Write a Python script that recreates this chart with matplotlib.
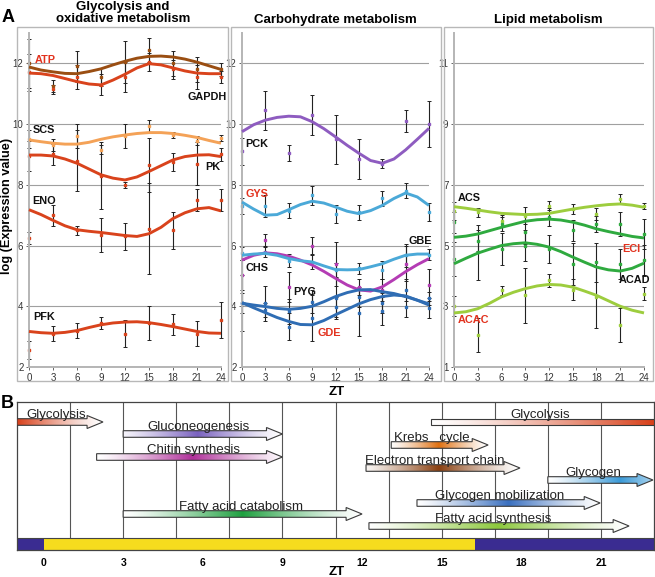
import numpy as np
import matplotlib
matplotlib.use("Agg")
import matplotlib.pyplot as plt
from matplotlib.colors import to_rgb
from matplotlib.patches import Polygon, Rectangle

plt.rcParams["font.family"] = ["Liberation Sans", "DejaVu Sans"]

W, H = 655, 577

# ---- panel A data -------------------------------------------------------
ZT = [0, 3, 6, 9, 12, 15, 18, 21, 24]
ZT_FIT = [0, 1.5, 3, 4.5, 6, 7.5, 9, 10.5, 12, 13.5, 15, 16.5, 18, 19.5, 21, 22.5, 24]

# glycolysis and oxidative metabolism
GAPDH_MEAN = [12.0, 11.25, 11.9, 11.55, 12.05, 12.45, 12.0, 11.8, 11.8]
GAPDH_ERR = [0.8, 0.2, 0.5, 0.3, 0.7, 0.4, 0.4, 0.4, 0.2]
GAPDH_FIT = [11.88, 11.78, 11.72, 11.67, 11.66, 11.73, 11.82, 11.95, 12.07,
             12.17, 12.23, 12.24, 12.21, 12.14, 12.04, 11.92, 11.8]
ATP_MEAN = [11.7, 11.15, 11.55, 11.3, 11.55, 12.05, 11.8, 11.55, 11.55]
ATP_ERR = [0.6, 0.15, 0.4, 0.35, 0.5, 0.3, 0.3, 0.4, 0.2]
ATP_FIT = [11.68, 11.66, 11.6, 11.5, 11.4, 11.32, 11.29, 11.45, 11.64,
           11.85, 11.99, 11.95, 11.85, 11.75, 11.68, 11.66, 11.66]
SCS_MEAN = [9.5, 9.3, 9.6, 9.15, 9.6, 9.95, 9.65, 9.45, 9.55]
SCS_ERR = [0.3, 0.2, 0.4, 0.15, 0.4, 0.2, 0.1, 0.15, 0.1]
SCS_FIT = [9.48, 9.42, 9.37, 9.34, 9.34, 9.4, 9.5, 9.58, 9.64,
           9.69, 9.72, 9.72, 9.69, 9.63, 9.56, 9.46, 9.37]
PK_MEAN = [8.95, 9.0, 8.8, 8.3, 8.0, 8.65, 8.75, 8.7, 9.0]
PK_ERR = [0.5, 0.35, 1.0, 1.1, 0.1, 0.9, 0.3, 0.7, 0.2]
PK_FIT = [8.98, 8.98, 8.95, 8.85, 8.71, 8.52, 8.33, 8.22, 8.16,
          8.26, 8.44, 8.63, 8.82, 8.93, 8.98, 8.99, 8.93]
ENO_MEAN = [6.25, 7.0, 6.5, 6.35, 6.3, 6.55, 6.5, 7.5, 7.5]
ENO_ERR = [0.2, 0.35, 0.15, 0.55, 0.45, 1.5, 0.6, 0.35, 0.35]
ENO_FIT = [7.18, 7.02, 6.83, 6.65, 6.52, 6.47, 6.43, 6.38, 6.33,
           6.3, 6.39, 6.6, 6.89, 7.08, 7.21, 7.25, 7.14]
PFK_MEAN = [2.55, 3.1, 3.2, 3.45, 3.1, 3.45, 3.4, 3.1, 3.55]
PFK_ERR = [0.3, 0.25, 0.25, 0.2, 0.45, 0.55, 0.35, 0.4, 0.6]
PFK_FIT = [3.17, 3.13, 3.11, 3.14, 3.2, 3.3, 3.39, 3.45, 3.48,
           3.49, 3.46, 3.4, 3.33, 3.25, 3.17, 3.12, 3.11]

# carbohydrate metabolism
PCK_MEAN = [9.1, 10.45, 9.05, 10.3, 9.5, 8.85, 8.7, 10.1, 10.0]
PCK_ERR = [0.45, 0.65, 0.25, 0.65, 0.8, 0.65, 0.15, 0.35, 0.75]
PCK_FIT = [9.75, 9.98, 10.13, 10.22, 10.26, 10.24, 10.08, 9.85, 9.58,
           9.3, 9.04, 8.8, 8.71, 8.85, 9.15, 9.5, 9.86]
GYS_MEAN = [7.3, 7.3, 7.15, 7.65, 7.05, 7.1, 7.55, 7.8, 7.1]
GYS_ERR = [0.25, 0.35, 0.25, 0.3, 0.3, 0.25, 0.25, 0.25, 0.3]
GYS_FIT = [7.43, 7.2, 7.0, 7.02, 7.18, 7.35, 7.46, 7.4, 7.27,
           7.13, 7.05, 7.15, 7.32, 7.55, 7.73, 7.6, 7.32]
GBE_MEAN = [5.74, 5.8, 5.5, 5.46, 5.2, 5.25, 5.2, 5.68, 5.7]
GBE_ERR = [0.22, 0.19, 0.22, 0.22, 0.22, 0.19, 0.3, 0.38, 0.19]
GBE_FIT = [5.68, 5.72, 5.74, 5.68, 5.57, 5.5, 5.46, 5.33, 5.21,
           5.2, 5.21, 5.3, 5.4, 5.55, 5.68, 5.72, 5.72]
CHS_MEAN = [5.03, 6.17, 4.64, 6.0, 5.4, 4.64, 4.54, 5.4, 4.7]
CHS_ERR = [0.5, 0.22, 0.5, 0.27, 0.73, 0.27, 0.35, 0.57, 0.52]
CHS_FIT = [5.52, 5.68, 5.76, 5.73, 5.65, 5.52, 5.36, 5.15, 4.92,
           4.7, 4.54, 4.5, 4.64, 4.88, 5.14, 5.37, 5.57]
PYG_MEAN = [4.1, 4.1, 3.83, 4.15, 4.26, 4.32, 4.1, 4.54, 4.26]
PYG_ERR = [0.33, 0.57, 0.41, 0.38, 0.68, 0.33, 0.33, 0.36, 0.22]
PYG_FIT = [4.1, 4.04, 3.99, 3.93, 3.9, 3.93, 4.0, 4.15, 4.32,
           4.45, 4.54, 4.55, 4.48, 4.42, 4.32, 4.2, 4.08]
GDE_MEAN = [4.1, 3.88, 3.33, 3.6, 3.99, 3.77, 3.83, 3.99, 3.93]
GDE_ERR = [0.93, 0.22, 0.44, 0.76, 0.33, 0.76, 0.46, 0.33, 0.33]
GDE_FIT = [4.12, 3.95, 3.79, 3.63, 3.5, 3.4, 3.39, 3.53, 3.72,
           3.9, 4.08, 4.22, 4.32, 4.37, 4.34, 4.2, 4.04]

# lipid metabolism
ACS_MEAN = [6.15, 6.09, 5.82, 5.98, 6.31, 6.2, 6.04, 6.53, 6.31]
ACS_ERR = [0.3, 0.14, 0.2, 0.28, 0.15, 0.17, 0.2, 0.16, 0.1]
ACS_FIT = [6.28, 6.23, 6.17, 6.11, 6.06, 6.04, 6.02, 6.03, 6.06,
           6.13, 6.2, 6.26, 6.31, 6.35, 6.37, 6.33, 6.26]
ECI_MEAN = [5.77, 5.16, 5.71, 5.44, 5.93, 5.5, 5.71, 5.71, 5.38]
ECI_ERR = [0.35, 0.35, 0.22, 0.38, 0.3, 0.35, 0.27, 0.4, 0.5]
ECI_FIT = [5.27, 5.31, 5.38, 5.49, 5.6, 5.7, 5.8, 5.85, 5.87,
           5.84, 5.77, 5.67, 5.55, 5.46, 5.38, 5.3, 5.25]
ACAD_MEAN = [4.56, 4.78, 4.89, 5.0, 4.89, 4.4, 4.45, 4.4, 4.51]
ACAD_ERR = [0.55, 0.9, 0.52, 0.52, 0.46, 0.7, 0.65, 0.5, 0.52]
ACAD_FIT = [4.4, 4.58, 4.75, 4.88, 5.0, 5.06, 5.09, 5.04, 4.95,
            4.8, 4.62, 4.45, 4.29, 4.2, 4.16, 4.25, 4.42]
ACAC_MEAN = [3.0, 2.05, 3.52, 3.36, 3.85, 3.55, 3.3, 2.38, 3.42]
ACAC_ERR = [0.33, 0.55, 0.15, 0.9, 0.2, 0.35, 1.0, 0.55, 0.2]
ACAC_FIT = [2.78, 2.82, 2.92, 3.1, 3.31, 3.46, 3.58, 3.67, 3.72,
            3.7, 3.63, 3.5, 3.36, 3.18, 3.0, 2.87, 2.78]

# ---- panel B data -------------------------------------------------------
PATHWAYS = ["Glycolysis", "Gluconeogenesis", "Chitin synthesis",
            "Fatty acid catabolism", "Glycolysis", "Krebs   cycle",
            "Electron transport chain", "Glycogen", "Glycogen mobilization",
            "Fatty acid synthesis"]
PATH_START = [-1, 3, 2, 3, 14.6, 13.1, 12.15, 19, 14.07, 12.26]
PATH_END = [2.24, 9, 9, 12, 23, 16.75, 17.95, 22.96, 20.97, 22.06]
PATH_PEAK = [-1, 5.8, 5.6, 7.5, 23, 14.9, 14.9, 21.7, 17.5, 17.1]
PATH_COLOR = ["#d8401a", "#7a62c0", "#b0309a", "#1fa040", "#d8401a",
              "#e07010", "#8a4010", "#3a9ad8", "#3a70c0", "#8cc83c"]
LIGHTS_ON, LIGHTS_OFF = 0, 16.25
ZT_B_TICKS = [0, 3, 6, 9, 12, 15, 18, 21]

# colours
RED = "#d9431c"
BROWN = "#9a4e12"
ORANGE = "#f4a257"
PURPLE = "#8e5cc0"
SKY = "#4ba9d8"
MAGENTA = "#b43cb4"
BLUE = "#2f6db4"
LIME = "#9dcd3e"
GREEN = "#2faa3f"
LRED = "#e2321e"
NAVY = "#3a2c91"
YELLOW = "#f6dc1e"


def fx(px):
    return px / W


def fy(py):
    return 1 - py / H


def style_axis(ax, ylim, yticks):
    ax.set_xlim(0, 24)
    ax.set_ylim(*ylim)
    ax.set_xticks(ZT)
    ax.set_yticks(yticks)
    for side in ["top", "right"]:
        ax.spines[side].set_visible(False)
    for side in ["left", "bottom"]:
        ax.spines[side].set_color("#b5b5b5")
        ax.spines[side].set_linewidth(1.4)
    ax.yaxis.grid(True, color="#a0a0a0", lw=0.8)
    ax.set_axisbelow(True)
    ax.tick_params(labelsize=7, colors="#666", labelcolor="#333",
                   length=2.5, width=0.7, pad=1.5)


def draw_gene(ax, mean, err, fit, color):
    ax.errorbar(ZT, mean, yerr=err, fmt="none", ecolor="#222", elinewidth=0.8,
                capsize=1.4, capthick=0.7, zorder=2, clip_on=False)
    ax.plot(ZT, mean, "s", ms=1.6, color=color, zorder=2.5, clip_on=False)
    ax.plot(ZT_FIT, fit, color=color, lw=2.1, zorder=3, clip_on=False,
            solid_capstyle="butt")


def draw_labels(ax, labels):
    for text, x, y, ha, color in labels:
        ax.text(x, y, text, ha=ha, va="center", fontsize=7.8, weight="bold",
                color=color, zorder=5, clip_on=False)


def draw_arrow(ax, start, end, peak, color, row):
    shaft, head, head_len = 3.3, 6.5, 0.6
    if end < 23:
        pts = [(start, row - shaft), (end - head_len, row - shaft),
               (end - head_len, row - head), (end, row),
               (end - head_len, row + head), (end - head_len, row + shaft),
               (start, row + shaft)]
    else:
        pts = [(start, row - shaft), (end, row - shaft),
               (end, row + shaft), (start, row + shaft)]
    poly = Polygon(pts, closed=True, fc="none", ec="#3a3a3a", lw=0.8, zorder=4)
    ax.add_patch(poly)

    xs = np.linspace(start, end, 300)
    span = max(peak - start, end - peak)
    t = np.clip(1 - np.abs(xs - peak) / span, 0, 1) ** 1.3
    rgb = np.array(to_rgb(color))
    img = (1 - t[:, None]) * np.ones(3) + t[:, None] * rgb
    im = ax.imshow(img[None, :, :], extent=(start, end, row + head, row - head),
                   aspect="auto", interpolation="bilinear", zorder=3)
    im.set_clip_path(poly)


def main():
    fig = plt.figure(figsize=(W / 100, H / 100), dpi=100)

    # frames around the three panels of A
    for x0, x1 in [(17, 228), (231, 441), (444, 653)]:
        fig.add_artist(Rectangle((fx(x0), fy(381)), fx(x1) - fx(x0), fy(27) - fy(381),
                                 transform=fig.transFigure, fc="none",
                                 ec="#b8b8b8", lw=1.0))

    ax_bottom, ax_h = fy(367), (367 - 33) / H
    ax1 = fig.add_axes([fx(29), ax_bottom, 192 / W, ax_h])
    ax2 = fig.add_axes([fx(242), ax_bottom, 187 / W, ax_h])
    ax3 = fig.add_axes([fx(454), ax_bottom, 190 / W, ax_h])

    style_axis(ax1, (2, 13), [2, 4, 6, 8, 10, 12])
    style_axis(ax2, (2, 13), [2, 4, 6, 8, 10, 12])
    style_axis(ax3, (1, 12), [1, 3, 5, 7, 9, 11])

    for args in [(GAPDH_MEAN, GAPDH_ERR, GAPDH_FIT, BROWN),
                 (ATP_MEAN, ATP_ERR, ATP_FIT, RED),
                 (SCS_MEAN, SCS_ERR, SCS_FIT, ORANGE),
                 (PK_MEAN, PK_ERR, PK_FIT, RED),
                 (ENO_MEAN, ENO_ERR, ENO_FIT, RED),
                 (PFK_MEAN, PFK_ERR, PFK_FIT, RED)]:
        draw_gene(ax1, *args)
    draw_labels(ax1, [("ATP", 0.7, 12.12, "left", LRED),
                      ("GAPDH", 24.7, 10.9, "right", "#111"),
                      ("SCS", 0.5, 9.8, "left", "#111"),
                      ("PK", 23.9, 8.6, "right", "#111"),
                      ("ENO", 0.4, 7.46, "left", "#111"),
                      ("PFK", 0.5, 3.64, "left", "#111")])

    for args in [(PCK_MEAN, PCK_ERR, PCK_FIT, PURPLE),
                 (GYS_MEAN, GYS_ERR, GYS_FIT, SKY),
                 (CHS_MEAN, CHS_ERR, CHS_FIT, MAGENTA),
                 (GBE_MEAN, GBE_ERR, GBE_FIT, SKY),
                 (PYG_MEAN, PYG_ERR, PYG_FIT, BLUE),
                 (GDE_MEAN, GDE_ERR, GDE_FIT, BLUE)]:
        draw_gene(ax2, *args)
    draw_labels(ax2, [("PCK", 0.4, 9.34, "left", "#111"),
                      ("GYS", 0.4, 7.7, "left", LRED),
                      ("GBE", 24.4, 6.15, "right", "#111"),
                      ("CHS", 0.4, 5.25, "left", "#111"),
                      ("PYG", 6.55, 4.48, "left", "#111"),
                      ("GDE", 9.75, 3.11, "left", LRED)])

    for args in [(ACS_MEAN, ACS_ERR, ACS_FIT, LIME),
                 (ECI_MEAN, ECI_ERR, ECI_FIT, GREEN),
                 (ACAD_MEAN, ACAD_ERR, ACAD_FIT, GREEN),
                 (ACAC_MEAN, ACAC_ERR, ACAC_FIT, LIME)]:
        draw_gene(ax3, *args)
    draw_labels(ax3, [("ACS", 0.5, 6.56, "left", "#111"),
                      ("ECI", 23.5, 4.9, "right", LRED),
                      ("ACAD", 24.75, 3.85, "right", "#111"),
                      ("ACAC", 0.5, 2.54, "left", LRED)])

    title_kw = dict(ha="center", va="center", fontsize=9.5, weight="bold")
    fig.text(fx(123), fy(13), "Glycolysis and\noxidative metabolism",
             linespacing=1.05, **title_kw)
    fig.text(fx(335), fy(20), "Carbohydrate metabolism", **title_kw)
    fig.text(fx(548), fy(20), "Lipid metabolism", **title_kw)
    fig.text(fx(7), fy(206), "log (Expression value)", rotation=90,
             ha="center", va="center", fontsize=9.2, weight="bold")
    fig.text(fx(337), fy(392), "ZT", ha="center", va="center", fontsize=9.5,
             weight="bold")
    fig.text(fx(8), fy(18), "A", ha="center", va="center", fontsize=13,
             weight="bold")
    fig.text(fx(7), fy(403), "B", ha="center", va="center", fontsize=13,
             weight="bold")

    # ---- panel B ----
    axb = fig.add_axes([fx(17), fy(550), 637 / W, 148 / H])
    axb.vlines(range(1, 22, 2), 0, 136, color="#555", lw=0.8, zorder=1)

    rows = [20, 32, 55, 112, 20, 43, 66, 78, 101, 124]
    label_x = [0.49, 5.82, 5.64, 7.44, 18.7, 14.64, 14.75, 20.7, 17.2, 16.95]
    for name, s, e, p, c, r, lx in zip(PATHWAYS, PATH_START, PATH_END,
                                       PATH_PEAK, PATH_COLOR, rows, label_x):
        draw_arrow(axb, s, e, p, c, r)
        axb.text(lx, r - 4.2, name, ha="center", va="baseline", fontsize=9.5,
                 color="#222", zorder=5)

    axb.add_patch(Rectangle((-1, 136), LIGHTS_ON + 1, 12, fc=NAVY, ec="none"))
    axb.add_patch(Rectangle((LIGHTS_ON, 136), LIGHTS_OFF - LIGHTS_ON, 12,
                            fc=YELLOW, ec="none"))
    axb.add_patch(Rectangle((LIGHTS_OFF, 136), 23 - LIGHTS_OFF, 12, fc=NAVY,
                            ec="none"))
    axb.hlines(136, -1, 23, color="#444", lw=0.8)

    axb.set_xlim(-1, 23)
    axb.set_ylim(148, 0)
    axb.set_aspect("auto")
    axb.set_yticks([])
    axb.set_xticks(ZT_B_TICKS)
    axb.set_xticklabels([str(t) for t in ZT_B_TICKS], fontsize=7.5, weight="bold")
    axb.tick_params(axis="x", length=0, pad=6)
    for sp in axb.spines.values():
        sp.set_color("#444")
        sp.set_linewidth(0.9)
    fig.text(fx(337), fy(572), "ZT", ha="center", va="center", fontsize=9.5,
             weight="bold")

    fig.savefig("out.png", dpi=100)


if __name__ == "__main__":
    main()
